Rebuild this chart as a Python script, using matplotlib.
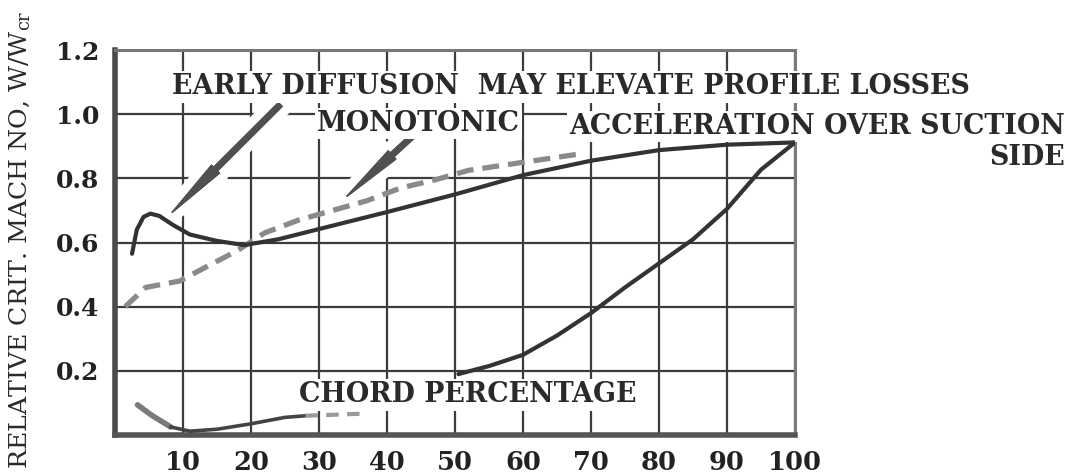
import matplotlib
matplotlib.use("Agg")
import matplotlib.pyplot as plt
from matplotlib import patheffects as pe
from matplotlib.patches import ArrowStyle

# suction side (solid, with the leading-edge spike)
suction_x = [2.5, 3.2, 4.2, 5.2, 6.5, 8.5, 11, 15, 19, 24, 30, 40, 50, 60, 70, 80, 90, 100]
suction_y = [0.565, 0.64, 0.68, 0.69, 0.683, 0.655, 0.625, 0.605, 0.592, 0.61, 0.642, 0.695, 0.75, 0.81, 0.855, 0.888, 0.905, 0.912]

# pressure side, back from the trailing edge
pressure_x = [50.5, 55, 60, 65, 70, 75, 80, 85, 90, 95, 100]
pressure_y = [0.19, 0.215, 0.25, 0.31, 0.38, 0.46, 0.535, 0.61, 0.705, 0.827, 0.912]

# monotonic acceleration (dashed)
mono_x = [1.5, 4.5, 9.5, 13.5, 18, 22, 27, 32, 37, 42, 47, 52, 60, 68]
mono_y = [0.40, 0.46, 0.48, 0.525, 0.575, 0.63, 0.67, 0.70, 0.73, 0.77, 0.795, 0.825, 0.85, 0.875]

# pressure side near the leading edge
low_lead_x = [3.3, 5.5, 8.2]
low_lead_y = [0.094, 0.06, 0.025]
low_solid_x = [8.2, 11, 15, 20, 25, 28]
low_solid_y = [0.025, 0.012, 0.018, 0.035, 0.055, 0.06]
low_dash_x = [28, 32, 37]
low_dash_y = [0.06, 0.063, 0.067]

x_ticks = [10, 20, 30, 40, 50, 60, 70, 80, 90, 100]
y_ticks = [0.2, 0.4, 0.6, 0.8, 1.0, 1.2]
y_labels = ["0.2", "0.4", "0.6", "0.8", "1.0", "1.2"]

plt.rcParams["font.family"] = ["DejaVu Serif"]
plt.rcParams["mathtext.fontset"] = "dejavuserif"

fig = plt.figure(figsize=(10.7, 4.76), dpi=100)
ax = fig.add_axes([0.1075, 0.0861, 0.6355, 0.8088])
ax.set_xlim(0, 100)
ax.set_ylim(0, 1.2)

ax.set_xticks(x_ticks)
ax.set_xticklabels([str(t) for t in x_ticks], fontsize=18.5, fontweight="bold", color="#222222")
ax.set_yticks(y_ticks)
ax.set_yticklabels(y_labels, fontsize=18, fontweight="bold", color="#222222")
ax.tick_params(axis="both", length=0)
ax.tick_params(axis="x", pad=11)
ax.tick_params(axis="y", pad=11)

ax.set_axisbelow(True)
ax.grid(True, color="#3c3c3c", linewidth=1.6)

ax.spines["left"].set_linewidth(4)
ax.spines["left"].set_color("#4a4a4a")
ax.spines["bottom"].set_linewidth(4)
ax.spines["bottom"].set_color("#555555")
ax.spines["top"].set_linewidth(2.2)
ax.spines["top"].set_color("#777777")
ax.spines["right"].set_linewidth(2.2)
ax.spines["right"].set_color("#7a7a7a")

# curves
ax.plot(mono_x, mono_y, color="#8a8a8a", linewidth=3.8, dashes=(3.2, 1.7), zorder=2.8,
        solid_capstyle="butt")
ax.plot(suction_x, suction_y, color="#333333", linewidth=3, zorder=3, solid_capstyle="round")
ax.plot(pressure_x, pressure_y, color="#333333", linewidth=3, zorder=3, solid_capstyle="round")
ax.plot(low_lead_x, low_lead_y, color="#7a7a7a", linewidth=4, zorder=3, solid_capstyle="round")
ax.plot(low_solid_x, low_solid_y, color="#444444", linewidth=2.6, zorder=3)
ax.plot(low_dash_x, low_dash_y, color="#999999", linewidth=3, dashes=(3, 2), zorder=3)

# pointer arrows with a white halo over the grid
halo = [pe.withStroke(linewidth=14, foreground="white"), pe.Normal()]
arrow_style = ArrowStyle.Simple(head_length=4.4, head_width=0.8, tail_width=0.38)
for tail, head in [((24.3, 1.03), (8.4, 0.694)), ((44.4, 0.944), (34.1, 0.744))]:
    ax.annotate("", xy=head, xytext=tail,
                arrowprops=dict(arrowstyle=arrow_style, color="#505050", mutation_scale=10,
                                shrinkA=0, shrinkB=0, path_effects=halo),
                zorder=2.5)

text_kw = dict(fontsize=19.4, fontweight="bold", color="#2a2a2a", va="center", clip_on=False,
               zorder=2.6, bbox=dict(facecolor="white", edgecolor="none", pad=1.5))
ax.text(8.4, 1.085, "EARLY DIFFUSION  MAY ELEVATE PROFILE LOSSES", ha="left", **text_kw)
ax.text(29.7, 0.972, "MONOTONIC", ha="left", **text_kw)
ax.text(139.7, 0.962, "ACCELERATION OVER SUCTION", ha="right", **text_kw)
ax.text(139.7, 0.866, "SIDE", ha="right", **text_kw)
ax.text(27.1, 0.125, "CHORD PERCENTAGE", ha="left", **text_kw)

fig.text(0.019, 0.496, r"RELATIVE CRIT. MACH NO, W/W$_{\mathrm{cr}}$", rotation=90,
         ha="center", va="center", fontsize=18.2, color="#2a2a2a")

fig.savefig("out.png", dpi=100, facecolor="white")
